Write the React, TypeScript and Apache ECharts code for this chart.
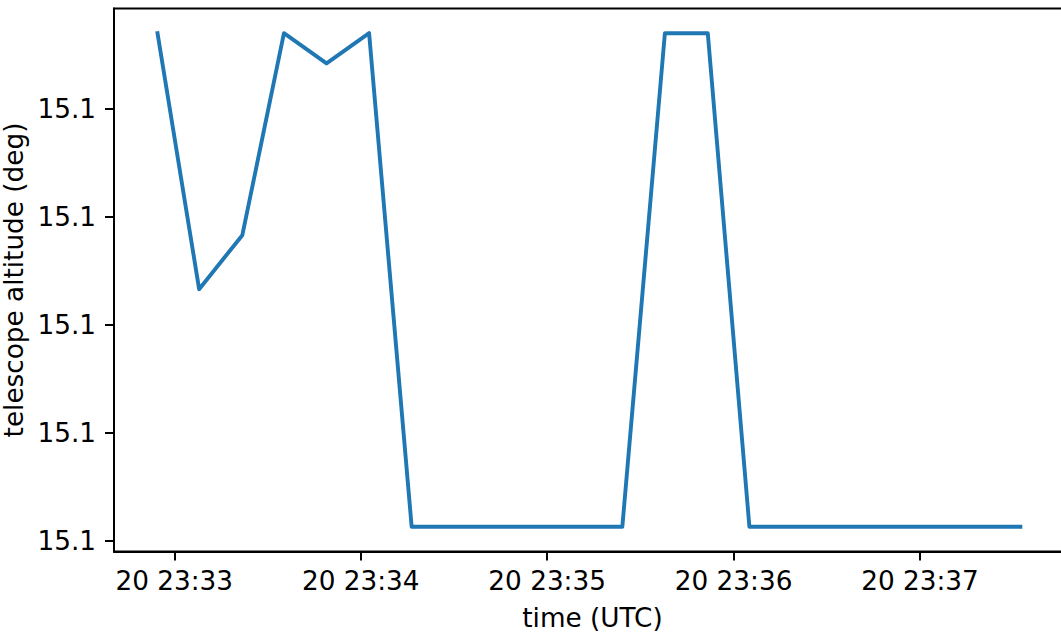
import React, { useEffect, useRef } from "react";
import * as echarts from "echarts";

// Sample times (UTC)
const times: string[] = [
  "2021-01-20T23:32:54.6Z",
  "2021-01-20T23:33:08.0Z",
  "2021-01-20T23:33:21.9Z",
  "2021-01-20T23:33:35.3Z",
  "2021-01-20T23:33:49.0Z",
  "2021-01-20T23:34:02.7Z",
  "2021-01-20T23:34:16.4Z",
  "2021-01-20T23:34:30.0Z",
  "2021-01-20T23:34:43.6Z",
  "2021-01-20T23:34:57.1Z",
  "2021-01-20T23:35:10.7Z",
  "2021-01-20T23:35:24.2Z",
  "2021-01-20T23:35:37.9Z",
  "2021-01-20T23:35:51.7Z",
  "2021-01-20T23:36:05.1Z",
  "2021-01-20T23:36:19.6Z",
  "2021-01-20T23:36:34.1Z",
  "2021-01-20T23:36:48.7Z",
  "2021-01-20T23:37:03.2Z",
  "2021-01-20T23:37:17.8Z",
  "2021-01-20T23:37:32.3Z",
];

// Telescope altitude (deg)
const altitude: number[] = [
  15.100047, 15.1000233, 15.1000283, 15.100047, 15.1000442, 15.100047,
  15.1000013, 15.1000013, 15.1000013, 15.1000013, 15.1000013, 15.1000013,
  15.100047, 15.100047, 15.1000013, 15.1000013, 15.1000013, 15.1000013,
  15.1000013, 15.1000013, 15.1000013,
];

const yTicks: number[] = [15.1, 15.10001, 15.10002, 15.10003, 15.10004];
const xTicks: string[] = [
  "2021-01-20T23:33:00Z",
  "2021-01-20T23:34:00Z",
  "2021-01-20T23:35:00Z",
  "2021-01-20T23:36:00Z",
  "2021-01-20T23:37:00Z",
];

// Visible time window of the axis (right end runs past the picture edge)
const xRange: string[] = ["2021-01-20T23:32:40.6Z", "2021-01-20T23:37:48.6Z"];

const FONT = "'DejaVu Sans', sans-serif";
const FS = 26.3;

function pad2(n: number) {
  return n < 10 ? "0" + n : String(n);
}

export default function App() {
  const ref = useRef<HTMLDivElement>(null);
  useEffect(() => {
    if (!ref.current) return;
    const chart = echarts.init(ref.current, undefined, { renderer: "svg" });
    const t = times.map((s) => Date.parse(s));
    const yMin = Math.min(...altitude);
    const yMax = Math.max(...altitude);
    const yr = yMax - yMin;
    const data = t.map((v, i) => [v, altitude[i]]);
    const xTickVals = xTicks.map((s) => Date.parse(s));
    chart.setOption({
      animation: false,
      backgroundColor: "#fff",
      grid: {
        left: 114,
        top: 8.5,
        right: -10,
        bottom: 83.5,
        containLabel: false,
        outerBoundsMode: "none",
        show: true,
        borderColor: "#000",
        borderWidth: 2,
        backgroundColor: "transparent",
      },
      xAxis: {
        type: "value",
        scale: true,
        min: Date.parse(xRange[0]),
        max: Date.parse(xRange[1]),
        name: "time (UTC)",
        nameLocation: "middle",
        nameGap: 53,
        nameMoveOverlap: false,
        nameTextStyle: { fontFamily: FONT, fontSize: FS, color: "#000" },
        axisLine: { show: true, lineStyle: { color: "#000", width: 2 } },
        axisTick: {
          show: true,
          length: 9,
          inside: false,
          lineStyle: { color: "#000", width: 2 },
          customValues: xTickVals,
        },
        axisLabel: {
          fontFamily: FONT,
          fontSize: FS,
          color: "#000",
          margin: 16,
          customValues: xTickVals,
          formatter: (v: number) => {
            const d = new Date(v);
            return `${d.getUTCDate()} ${pad2(d.getUTCHours())}:${pad2(d.getUTCMinutes())}`;
          },
        },
        splitLine: { show: false },
      },
      yAxis: {
        type: "value",
        scale: true,
        min: yMin - 0.05 * yr,
        max: yMax + 0.05 * yr,
        name: "telescope altitude (deg)",
        nameLocation: "middle",
        nameGap: 87,
        nameMoveOverlap: false,
        nameRotate: 90,
        nameTextStyle: { fontFamily: FONT, fontSize: FS, color: "#000" },
        axisLine: { show: true, lineStyle: { color: "#000", width: 2 } },
        axisTick: {
          show: true,
          length: 9,
          inside: false,
          lineStyle: { color: "#000", width: 2 },
          customValues: yTicks,
        },
        axisLabel: {
          fontFamily: FONT,
          fontSize: FS,
          color: "#000",
          margin: 18,
          customValues: yTicks,
          formatter: (v: number) => v.toFixed(1),
        },
        splitLine: { show: false },
      },
      series: [
        {
          type: "line",
          data,
          showSymbol: false,
          symbol: "none",
          lineStyle: { color: "#1f77b4", width: 3.9, cap: "square", join: "round" },
        },
      ],
    });
    return () => chart.dispose();
  }, []);
  return (
    <div
      ref={ref}
      style={{ position: "absolute", left: 0, top: 0, width: 1061, height: 635 }}
    />
  );
}
